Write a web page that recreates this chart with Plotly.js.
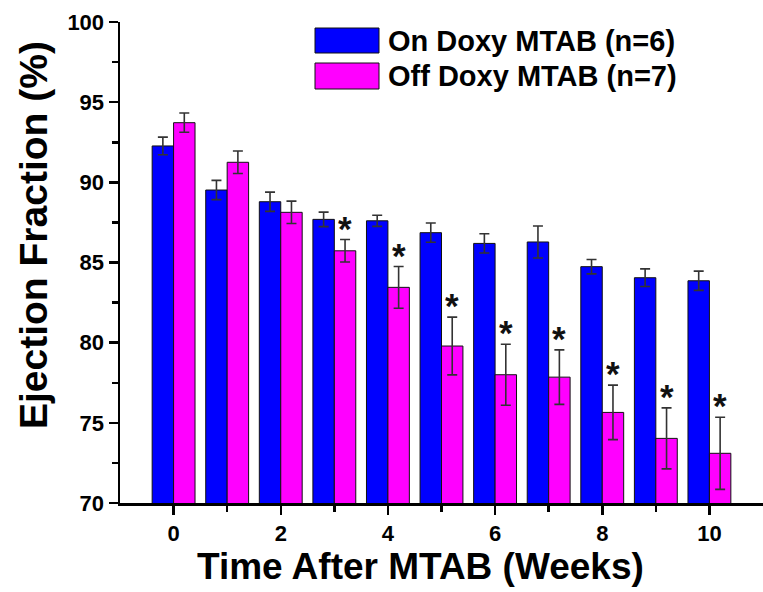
<!DOCTYPE html>
<html><head><meta charset="utf-8">
<script src="https://cdn.plot.ly/plotly-3.0.1.min.js"></script>
<style>html,body{margin:0;padding:0;background:#fff}</style>
</head><body>
<div id="chart" style="width:763px;height:592px"></div>
<script>
var weeks = [0,1,2,3,4,5,6,7,8,9,10];
var onName = "On Doxy MTAB (n=6)";
var offName = "Off Doxy MTAB (n=7)";
var onVals = [92.27,89.52,88.79,87.69,87.6,86.86,86.19,86.28,84.74,84.05,83.86];
var onErr  = [0.55,0.6,0.6,0.45,0.35,0.6,0.6,1.0,0.45,0.55,0.6];
var offVals = [93.72,91.25,88.13,85.73,83.45,79.79,78.0,77.85,75.65,74.03,73.1];
var offErr  = [0.6,0.7,0.7,0.7,1.3,1.8,1.9,1.7,1.7,1.9,2.25];
var sigWeeks = [3,4,5,6,7,8,9,10];
var xTicks = [0,2,4,6,8,10];
var yTicks = [70,75,80,85,90,95,100];
var xTitle = "Time After MTAB (Weeks)";
var yTitle = "Ejection Fraction (%)";

var blue = "#0000ff", magenta = "#ff00ff";
var font = "Liberation Sans, Arial, sans-serif";

var traces = [
  {type:"bar", name:onName, x:weeks, y:onVals,
   marker:{color:blue, line:{color:"#111", width:1}},
   error_y:{type:"data", array:onErr, visible:true, color:"#333", thickness:1.6, width:5}},
  {type:"bar", name:offName, x:weeks, y:offVals,
   marker:{color:magenta, line:{color:"#111", width:1}},
   error_y:{type:"data", array:offErr, visible:true, color:"#333", thickness:1.6, width:5}}
];

var annotations = sigWeeks.map(function(w){
  var i = weeks.indexOf(w);
  return {x:w+0.2, y:offVals[i]+offErr[i], xref:"x", yref:"y", text:"*", showarrow:false,
          yanchor:"bottom", yshift:-10, font:{family:font, size:35, color:"#111", weight:"bold"}};
});
function px(x){return (x-120)/643;}
function py(y){return (503-y)/481;}
// custom legend
var shapes = [
  {type:"rect", xref:"paper", yref:"paper", x0:px(315), x1:px(379),
   y0:py(53), y1:py(28), fillcolor:blue, line:{color:"#111", width:1}},
  {type:"rect", xref:"paper", yref:"paper", x0:px(315), x1:px(379),
   y0:py(89), y1:py(63), fillcolor:magenta, line:{color:"#111", width:1}}
];
annotations.push({xref:"paper", yref:"paper", x:px(386), y:py(41), text:onName,
  showarrow:false, xanchor:"left", yanchor:"middle", font:{family:font, size:29, color:"#000", weight:"bold"}});
annotations.push({xref:"paper", yref:"paper", x:px(386), y:py(76), text:offName,
  showarrow:false, xanchor:"left", yanchor:"middle", font:{family:font, size:29, color:"#000", weight:"bold"}});
// axis titles
annotations.push({xref:"paper", yref:"paper", x:px(420), y:py(566), text:xTitle,
  showarrow:false, xanchor:"center", yanchor:"middle", font:{family:font, size:37, color:"#000", weight:"bold"}});
annotations.push({xref:"paper", yref:"paper", x:px(34), y:py(235), text:yTitle, textangle:-90,
  showarrow:false, xanchor:"center", yanchor:"middle", font:{family:font, size:39, color:"#000", weight:"bold"}});

var layout = {
  width:763, height:592,
  margin:{l:120, r:0, t:22, b:89},
  paper_bgcolor:"#fff", plot_bgcolor:"#fff",
  barmode:"group", bargap:0.2, bargroupgap:0,
  showlegend:false,
  xaxis:{range:[-1,11], tickvals:xTicks, ticktext:xTicks.map(String),
    ticks:"outside", ticklen:9, tickwidth:2.5, tickcolor:"#000",
    minor:{tickvals:[1,3,5,7,9], ticks:"outside", ticklen:6, tickwidth:2.5, tickcolor:"#000"},
    showline:true, linewidth:2.5, linecolor:"#000", showgrid:false, zeroline:false,
    tickfont:{family:font, size:22, color:"#000", weight:"bold"}},
  yaxis:{range:[70,100], tickvals:yTicks, ticks:"outside", ticklen:9, tickwidth:2.5, tickcolor:"#000",
    minor:{dtick:2.5, ticks:"outside", ticklen:6, tickwidth:2.5, tickcolor:"#000"},
    showline:true, linewidth:2.5, linecolor:"#000", showgrid:false, zeroline:false,
    tickfont:{family:font, size:22, color:"#000", weight:"bold"}},
  shapes:shapes,
  annotations:annotations
};
Plotly.newPlot("chart", traces, layout, {displayModeBar:false, staticPlot:true});
</script>
</body></html>
